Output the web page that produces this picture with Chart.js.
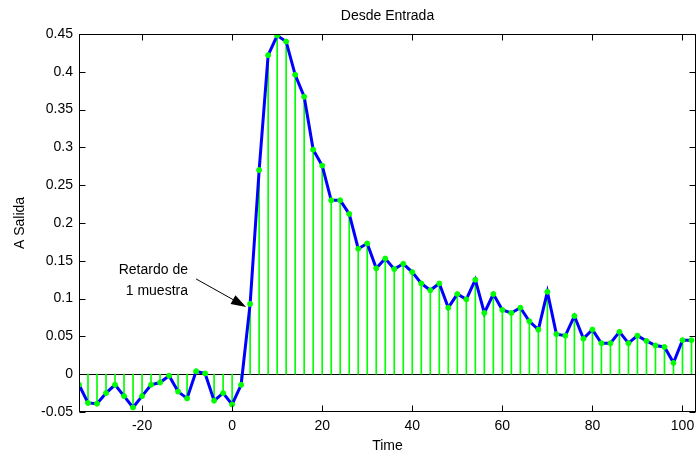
<!DOCTYPE html>
<html>
<head>
<meta charset="utf-8">
<script src="https://cdn.jsdelivr.net/npm/chart.js@4"></script>
<style>
  body { margin: 0; background: #fff; }
  canvas { display: block; }
</style>
</head>
<body>
<canvas id="stemChart" width="696" height="456"></canvas>
<script>
// muestras (cada 2 unidades de tiempo)
const timeSteps = [-34, -32, -30, -28, -26, -24, -22, -20, -18, -16, -14, -12, -10, -8, -6, -4, -2, 0,
    2, 4, 6, 8, 10, 12, 14, 16, 18, 20, 22, 24, 26, 28, 30, 32, 34, 36, 38, 40, 42, 44, 46, 48, 50,
    52, 54, 56, 58, 60, 62, 64, 66, 68, 70, 72, 74, 76, 78, 80, 82, 84, 86, 88, 90, 92, 94, 96, 98, 100, 102];
const salida = [-0.014, -0.038, -0.039, -0.025, -0.014, -0.029, -0.044, -0.029, -0.014, -0.011, -0.002, -0.023, -0.032, 0.004, 0.001, -0.035, -0.025, -0.040,
    -0.014, 0.093, 0.270, 0.422, 0.448, 0.440, 0.396, 0.367, 0.297, 0.276, 0.230, 0.230, 0.212, 0.166, 0.173, 0.140, 0.153, 0.139, 0.146, 0.135, 0.120, 0.111, 0.120, 0.088, 0.106,
    0.099, 0.125, 0.081, 0.106, 0.085, 0.081, 0.088, 0.070, 0.059, 0.109, 0.053, 0.051, 0.077, 0.047, 0.059, 0.041, 0.041, 0.056, 0.041, 0.051, 0.044, 0.038, 0.036, 0.015, 0.045, 0.045];

const xTicks = [-20, 0, 20, 40, 60, 80, 100];
const yTicks = [-0.05, 0, 0.05, 0.1, 0.15, 0.2, 0.25, 0.3, 0.35, 0.4, 0.45];
const yTickLabels = ['-0.05', '0', '0.05', '0.1', '0.15', '0.2', '0.25', '0.3', '0.35', '0.4', '0.45'];

const chartTitle = 'Desde Entrada';
const xTitle = 'Time';
const yTitle = 'A Salida';
const noteLines = ['Retardo de', '1 muestra'];

const FONT = '14px "Liberation Sans", Arial, sans-serif';

const points = timeSteps.map((t, i) => ({ x: t, y: salida[i] }));

// caja, marcas hacia dentro, linea base, textos y flecha (estilo matlab)
const matlabAxes = {
    id: 'matlabAxes',
    beforeDatasetsDraw(chart) {
        const { ctx, chartArea: a, scales: { y } } = chart;
        ctx.save();
        ctx.strokeStyle = '#000';
        ctx.lineWidth = 1;
        const y0 = Math.round(y.getPixelForValue(0)) + 0.5;
        ctx.beginPath();
        ctx.moveTo(a.left, y0);
        ctx.lineTo(a.right, y0);
        ctx.stroke();
        ctx.restore();
    },
    afterDraw(chart) {
        const { ctx, chartArea: a, scales: { x, y } } = chart;
        const L = Math.round(a.left) + 0.5, R = Math.round(a.right) - 0.5;
        const T = Math.round(a.top) + 0.5, B = Math.round(a.bottom) - 0.5;
        ctx.save();
        ctx.strokeStyle = '#000';
        ctx.lineWidth = 1;
        ctx.strokeRect(L, T, R - L, B - T);
        ctx.beginPath();
        xTicks.forEach(v => {
            const px = Math.round(x.getPixelForValue(v)) + 0.5;
            ctx.moveTo(px, B); ctx.lineTo(px, B - 6);
            ctx.moveTo(px, T); ctx.lineTo(px, T + 6);
        });
        yTicks.forEach(v => {
            const py = Math.round(y.getPixelForValue(v)) + 0.5;
            ctx.moveTo(L, py); ctx.lineTo(L + 6, py);
            ctx.moveTo(R, py); ctx.lineTo(R - 6, py);
        });
        ctx.stroke();

        ctx.fillStyle = '#000';
        ctx.font = FONT;
        ctx.textAlign = 'center';
        ctx.textBaseline = 'middle';
        ctx.fillText(chartTitle, (a.left + a.right) / 2, 16);
        ctx.fillText(xTitle, (a.left + a.right) / 2, 446);
        ctx.save();
        ctx.translate(20, (a.top + a.bottom) / 2);
        ctx.rotate(-Math.PI / 2);
        ctx.fillText(yTitle, 0, 0);
        ctx.restore();

        // anotacion
        ctx.textAlign = 'right';
        ctx.fillText(noteLines[0], x.getPixelForValue(-9.8), y.getPixelForValue(0.137));
        ctx.fillText(noteLines[1], x.getPixelForValue(-9.8), y.getPixelForValue(0.110));

        const sx = x.getPixelForValue(-8.0), sy = y.getPixelForValue(0.126);
        const tx = x.getPixelForValue(3.1), ty = y.getPixelForValue(0.089);
        const ang = Math.atan2(ty - sy, tx - sx);
        const headLen = 15, headW = 5;
        const bx = tx - headLen * Math.cos(ang), by = ty - headLen * Math.sin(ang);
        ctx.beginPath();
        ctx.moveTo(sx, sy);
        ctx.lineTo(bx, by);
        ctx.stroke();
        ctx.beginPath();
        ctx.moveTo(tx, ty);
        ctx.lineTo(bx + headW * Math.sin(ang), by - headW * Math.cos(ang));
        ctx.lineTo(bx - headW * Math.sin(ang), by + headW * Math.cos(ang));
        ctx.closePath();
        ctx.fill();
        ctx.restore();
    }
};

new Chart(document.getElementById('stemChart'), {
    type: 'bar',
    data: {
        datasets: [{
            type: 'line',
            data: points,
            borderColor: '#0000ff',
            borderWidth: 3,
            tension: 0,
            pointRadius: 2.5,
            pointBackgroundColor: '#00ff00',
            pointBorderColor: '#00ff00',
            pointBorderWidth: 1,
            order: 0
        }, {
            type: 'bar',
            data: points,
            backgroundColor: '#00ff00',
            borderWidth: 0,
            barThickness: 1,
            order: 1
        }]
    },
    options: {
        responsive: false,
        devicePixelRatio: 1,
        animation: false,
        layout: { autoPadding: false, padding: { top: 34, left: 0, right: 0, bottom: 0 } },
        plugins: {
            legend: { display: false },
            tooltip: { enabled: false }
        },
        scales: {
            x: {
                type: 'linear',
                min: -34,
                max: 103,
                offset: false,
                grid: { display: false, drawTicks: false },
                border: { display: false },
                afterBuildTicks: scale => { scale.ticks = xTicks.map(v => ({ value: v })); },
                afterFit: scale => {
                    scale.height = 44;
                    scale.paddingLeft = 0;
                    scale.paddingRight = 0;
                },
                ticks: {
                    color: '#000',
                    font: { family: '"Liberation Sans", Arial, sans-serif', size: 14 },
                    padding: 6,
                    maxRotation: 0,
                    callback: v => String(v)
                }
            },
            y: {
                type: 'linear',
                min: -0.05,
                max: 0.45,
                grid: { display: false, drawTicks: false },
                border: { display: false },
                afterBuildTicks: scale => { scale.ticks = yTicks.map(v => ({ value: v })); },
                afterFit: scale => {
                    scale.width = 79;
                    scale.paddingTop = 0;
                    scale.paddingBottom = 0;
                },
                ticks: {
                    color: '#000',
                    font: { family: '"Liberation Sans", Arial, sans-serif', size: 14 },
                    padding: 6,
                    callback: (v, i) => yTickLabels[i]
                }
            }
        }
    },
    plugins: [matlabAxes]
});
</script>
</body>
</html>
